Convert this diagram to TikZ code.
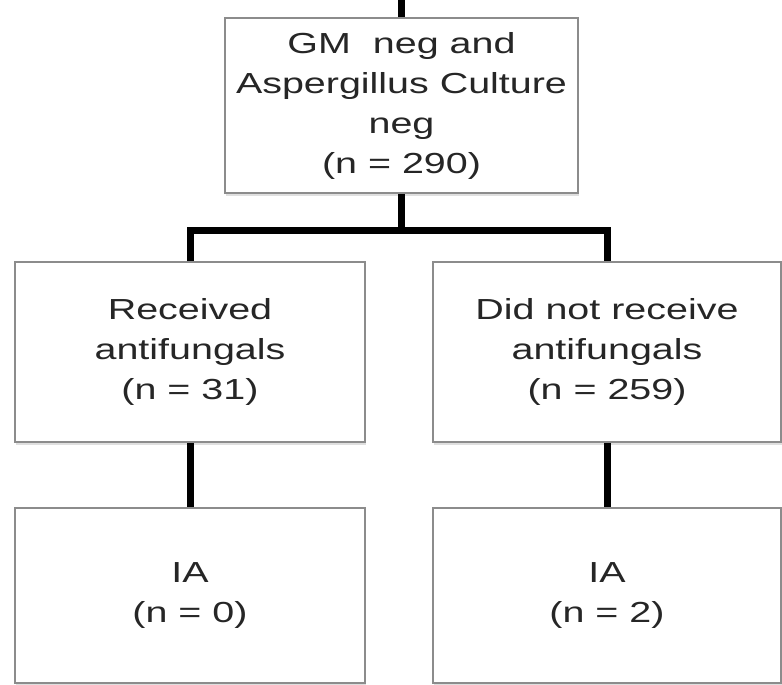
\documentclass[tikz,border=0pt]{standalone}
\usepackage{fontspec}
\setmainfont{Liberation Sans}[FakeStretch=1.36]
\usetikzlibrary{shadows}
\begin{document}
\begin{tikzpicture}[x=1pt, y=1pt, line join=miter, font=\fontsize{29}{40}\selectfont]
	\tikzset{box/.style={draw=black!45, line width=1.6pt, fill=white, align=center, inner sep=0pt, text=black!85,
			drop shadow={shadow xshift=1pt, shadow yshift=-2.5pt, opacity=0.25}}}
	\tikzset{conn/.style={line width=7pt, black}}
	\def\bw{350}\def\bh{178}
	\useasboundingbox (0,0) rectangle (782,-685);
	%boxes
	\node[box, minimum width=353, minimum height=175] (gm) at (401.5,-105.5) {GM~ neg and\\Aspergillus Culture\\neg\\(n = 290)};
	\node[box, minimum width=\bw, minimum height=180] (rec) at (190,-352) {Received\\antifungals\\(n = 31)};
	\node[box, minimum width=348, minimum height=180] (norec) at (607,-352) {Did not receive\\antifungals\\(n = 259)};
	\node[box, minimum width=\bw, minimum height=175] (iaA) at (190,-595.5) {IA\\(n = 0)};
	\node[box, minimum width=348, minimum height=175] (iaB) at (607,-595.5) {IA\\(n = 2)};
	%connectors
	\coordinate (in) at (gm.north |- 0,0);
	\coordinate (split) at (gm.south |- 0,-230);
	\draw[conn] (in) -- (gm.north);
	\draw[conn] (gm.south) -- (split);
	\draw[conn] (rec.north) |- (split) -| (norec.north);
	\draw[conn] (rec.south) -- (iaA.north);
	\draw[conn] (norec.south) -- (iaB.north);
\end{tikzpicture}
\end{document}
